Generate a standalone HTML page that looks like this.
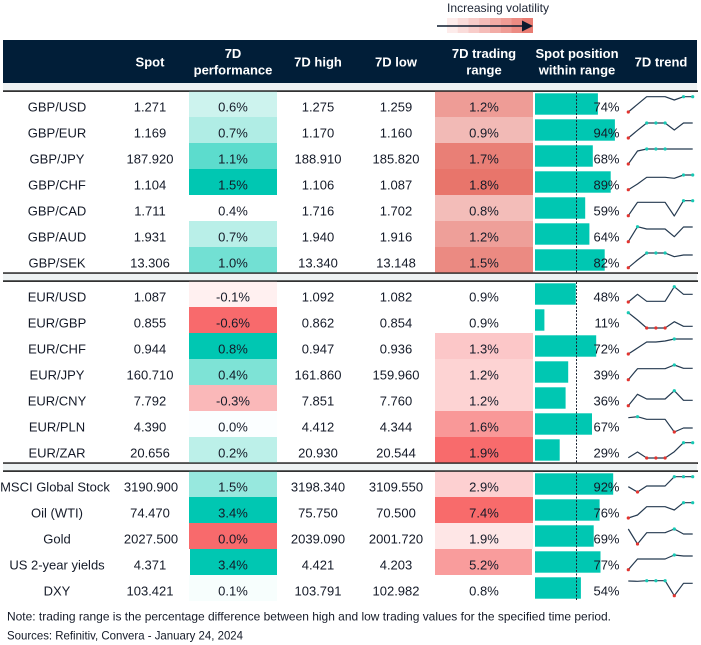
<!DOCTYPE html>
<html><head><meta charset="utf-8">
<style>
html,body{margin:0;padding:0;background:#fff;}
svg{display:block;}
text{font-family:"Liberation Sans",Arial,sans-serif;}
</style></head>
<body>
<svg width="701" height="645" viewBox="0 0 701 645" xmlns="http://www.w3.org/2000/svg">
<!-- legend -->
<text x="447" y="12" font-size="12" fill="#1b2333" textLength="102" lengthAdjust="spacingAndGlyphs">Increasing volatility</text>
<rect x="447" y="18" width="11" height="15" fill="#fdeceb"/>
<rect x="457.75" y="18" width="11" height="15" fill="#fadcda"/>
<rect x="468.5" y="18" width="11" height="15" fill="#f8ccc9"/>
<rect x="479.25" y="18" width="11" height="15" fill="#f5bcb8"/>
<rect x="490" y="18" width="11" height="15" fill="#f2aca6"/>
<rect x="500.75" y="18" width="11" height="15" fill="#ef9c95"/>
<rect x="511.5" y="18" width="11" height="15" fill="#ec8b83"/>
<rect x="522.25" y="18" width="10.75" height="15" fill="#e97c72"/>
<line x1="437" y1="26" x2="525" y2="26" stroke="#0d1b2e" stroke-width="1.5"/>
<polygon points="522,20.5 533,26 522,31.5" fill="#0d1b2e"/>

<!-- header -->
<rect x="3" y="40" width="694" height="43" fill="#011e38"/>
<rect x="3" y="83" width="694" height="8" fill="#eef2f3"/>
<rect x="3" y="90.4" width="695" height="1.4" fill="#000"/>
<g fill="#fff" font-size="13" font-weight="bold" text-anchor="middle">
<text x="150" y="66.5">Spot</text>
<text x="233" y="58">7D</text>
<text x="233" y="74.5">performance</text>
<text x="318" y="66.5">7D high</text>
<text x="396" y="66.5">7D low</text>
<text x="484" y="58">7D trading</text>
<text x="484" y="74.5">range</text>
<text x="577" y="58">Spot position</text>
<text x="577" y="74.5">within range</text>
<text x="661" y="66.5">7D trend</text>
</g>

<!-- section separators -->
<rect x="3" y="272.4" width="695" height="1.4" fill="#000"/>
<rect x="3" y="273.8" width="694" height="6.6" fill="#eef2f3"/>
<rect x="3" y="280.4" width="695" height="1.4" fill="#000"/>
<rect x="3" y="462.4" width="695" height="1.4" fill="#000"/>
<rect x="3" y="463.8" width="694" height="6.6" fill="#eef2f3"/>
<rect x="3" y="470.4" width="695" height="1.4" fill="#000"/>

<!-- perf cells -->
<g>
<rect x="189" y="91.8" width="88" height="25.2" fill="#cdf3ee"/>
<rect x="189" y="117" width="88" height="26" fill="#b0ede5"/>
<rect x="189" y="143" width="88" height="26" fill="#5cdccd"/>
<rect x="189" y="169" width="88" height="26" fill="#00c7b2"/>
<rect x="189" y="221" width="88" height="26" fill="#b9efe8"/>
<rect x="189" y="247" width="88" height="25.4" fill="#72e0d3"/>

<rect x="189" y="281.8" width="88" height="25.2" fill="#fff0f0"/>
<rect x="189" y="307" width="88" height="26" fill="#f86a6c"/>
<rect x="189" y="333" width="88" height="26" fill="#00c7b2"/>
<rect x="189" y="359" width="88" height="26" fill="#7ee3d6"/>
<rect x="189" y="385" width="88" height="26" fill="#fab8b9"/>
<rect x="189" y="411" width="88" height="26" fill="#fbfeff"/>
<rect x="189" y="437" width="88" height="25.4" fill="#bcf0e9"/>

<rect x="189" y="471.8" width="88" height="25.2" fill="#97e8de"/>
<rect x="189" y="497" width="88" height="26" fill="#00c7b2"/>
<rect x="189" y="523" width="88" height="26" fill="#f86a6c"/>
<rect x="190" y="549" width="87" height="26" fill="#00c7b2"/>
<rect x="189" y="575" width="88" height="26" fill="#f7fefd"/>
</g>

<!-- trading range cells -->
<g>
<rect x="435" y="91.8" width="98" height="25.2" fill="#ee9c96"/>
<rect x="435" y="117" width="98" height="26" fill="#f2bab6"/>
<rect x="435" y="143" width="98" height="26" fill="#e97f76"/>
<rect x="435" y="169" width="98" height="26" fill="#e8756b"/>
<rect x="435" y="195" width="98" height="26" fill="#f3bdb9"/>
<rect x="435" y="221" width="98" height="26" fill="#ee9f99"/>
<rect x="435" y="247" width="98" height="25.4" fill="#eb8a82"/>

<rect x="435" y="333" width="98" height="26" fill="#fcc7c8"/>
<rect x="435" y="359" width="98" height="26" fill="#fdd3d3"/>
<rect x="435" y="385" width="98" height="26" fill="#fdd3d3"/>
<rect x="435" y="411" width="98" height="26" fill="#f99898"/>
<rect x="435" y="437" width="98" height="25.4" fill="#f86b6c"/>

<rect x="435" y="471.8" width="98" height="25.2" fill="#fdd0d1"/>
<rect x="435" y="497" width="98" height="26" fill="#f86b6b"/>
<rect x="435" y="523" width="98" height="26" fill="#fee6e6"/>
<rect x="435" y="549" width="97" height="26" fill="#f99c9c"/>
</g>

<!-- bars -->
<g fill="#00c7b2">
<rect x="535" y="93.3" width="62.9" height="21.4"/>
<rect x="535" y="119.3" width="79.9" height="21.4"/>
<rect x="535" y="145.3" width="57.8" height="21.4"/>
<rect x="535" y="171.3" width="75.7" height="21.4"/>
<rect x="535" y="197.3" width="50.2" height="21.4"/>
<rect x="535" y="223.3" width="54.4" height="21.4"/>
<rect x="535" y="249.3" width="69.7" height="21.4"/>

<rect x="535" y="283.3" width="40.8" height="21.4"/>
<rect x="535" y="309.3" width="9.4" height="21.4"/>
<rect x="535" y="335.3" width="61.2" height="21.4"/>
<rect x="535" y="361.3" width="33.2" height="21.4"/>
<rect x="535" y="387.3" width="30.6" height="21.4"/>
<rect x="535" y="413.3" width="57" height="21.4"/>
<rect x="535" y="439.3" width="24.7" height="21.4"/>

<rect x="535" y="473.3" width="78.2" height="21.4"/>
<rect x="535" y="499.3" width="64.6" height="21.4"/>
<rect x="535" y="525.3" width="58.7" height="21.4"/>
<rect x="535" y="551.3" width="65.5" height="21.4"/>
<rect x="535" y="577.3" width="45.9" height="21.4"/>
</g>
<g stroke="#1b2333" stroke-width="1" stroke-dasharray="2,1.5">
<line x1="576.5" y1="92" x2="576.5" y2="272.4"/>
<line x1="576.5" y1="282" x2="576.5" y2="462.4"/>
<line x1="576.5" y1="472" x2="576.5" y2="601"/>
</g>

<!-- table text -->
<g font-size="13" fill="#141a28">
<g text-anchor="middle">
<!-- GBP -->
<text x="57" y="111.5">GBP/USD</text><text x="150" y="111.5">1.271</text><text x="233" y="111.5">0.6%</text><text x="318" y="111.5">1.275</text><text x="396" y="111.5">1.259</text><text x="484" y="111.5">1.2%</text>
<text x="57" y="137.5">GBP/EUR</text><text x="150" y="137.5">1.169</text><text x="233" y="137.5">0.7%</text><text x="318" y="137.5">1.170</text><text x="396" y="137.5">1.160</text><text x="484" y="137.5">0.9%</text>
<text x="57" y="163.5">GBP/JPY</text><text x="150" y="163.5">187.920</text><text x="233" y="163.5">1.1%</text><text x="318" y="163.5">188.910</text><text x="396" y="163.5">185.820</text><text x="484" y="163.5">1.7%</text>
<text x="57" y="189.5">GBP/CHF</text><text x="150" y="189.5">1.104</text><text x="233" y="189.5">1.5%</text><text x="318" y="189.5">1.106</text><text x="396" y="189.5">1.087</text><text x="484" y="189.5">1.8%</text>
<text x="57" y="215.5">GBP/CAD</text><text x="150" y="215.5">1.711</text><text x="233" y="215.5">0.4%</text><text x="318" y="215.5">1.716</text><text x="396" y="215.5">1.702</text><text x="484" y="215.5">0.8%</text>
<text x="57" y="241.5">GBP/AUD</text><text x="150" y="241.5">1.931</text><text x="233" y="241.5">0.7%</text><text x="318" y="241.5">1.940</text><text x="396" y="241.5">1.916</text><text x="484" y="241.5">1.2%</text>
<text x="57" y="267.5">GBP/SEK</text><text x="150" y="267.5">13.306</text><text x="233" y="267.5">1.0%</text><text x="318" y="267.5">13.340</text><text x="396" y="267.5">13.148</text><text x="484" y="267.5">1.5%</text>
<!-- EUR -->
<text x="57" y="301.5">EUR/USD</text><text x="150" y="301.5">1.087</text><text x="233" y="301.5">-0.1%</text><text x="318" y="301.5">1.092</text><text x="396" y="301.5">1.082</text><text x="484" y="301.5">0.9%</text>
<text x="57" y="327.5">EUR/GBP</text><text x="150" y="327.5">0.855</text><text x="233" y="327.5">-0.6%</text><text x="318" y="327.5">0.862</text><text x="396" y="327.5">0.854</text><text x="484" y="327.5">0.9%</text>
<text x="57" y="353.5">EUR/CHF</text><text x="150" y="353.5">0.944</text><text x="233" y="353.5">0.8%</text><text x="318" y="353.5">0.947</text><text x="396" y="353.5">0.936</text><text x="484" y="353.5">1.3%</text>
<text x="57" y="379.5">EUR/JPY</text><text x="150" y="379.5">160.710</text><text x="233" y="379.5">0.4%</text><text x="318" y="379.5">161.860</text><text x="396" y="379.5">159.960</text><text x="484" y="379.5">1.2%</text>
<text x="57" y="405.5">EUR/CNY</text><text x="150" y="405.5">7.792</text><text x="233" y="405.5">-0.3%</text><text x="318" y="405.5">7.851</text><text x="396" y="405.5">7.760</text><text x="484" y="405.5">1.2%</text>
<text x="57" y="431.5">EUR/PLN</text><text x="150" y="431.5">4.390</text><text x="233" y="431.5">0.0%</text><text x="318" y="431.5">4.412</text><text x="396" y="431.5">4.344</text><text x="484" y="431.5">1.6%</text>
<text x="57" y="457.5">EUR/ZAR</text><text x="150" y="457.5">20.656</text><text x="233" y="457.5">0.2%</text><text x="318" y="457.5">20.930</text><text x="396" y="457.5">20.544</text><text x="484" y="457.5">1.9%</text>
<!-- other -->
<text x="55" y="491.5">MSCI Global Stock</text><text x="151" y="491.5">3190.900</text><text x="233" y="491.5">1.5%</text><text x="318" y="491.5">3198.340</text><text x="396" y="491.5">3109.550</text><text x="484" y="491.5">2.9%</text>
<text x="57" y="517.5">Oil (WTI)</text><text x="150" y="517.5">74.470</text><text x="233" y="517.5">3.4%</text><text x="318" y="517.5">75.750</text><text x="396" y="517.5">70.500</text><text x="484" y="517.5">7.4%</text>
<text x="57" y="543.5">Gold</text><text x="151" y="543.5">2027.500</text><text x="233" y="543.5">0.0%</text><text x="318" y="543.5">2039.090</text><text x="396" y="543.5">2001.720</text><text x="484" y="543.5">1.9%</text>
<text x="57" y="569.5">US 2-year yields</text><text x="150" y="569.5">4.371</text><text x="233" y="569.5">3.4%</text><text x="318" y="569.5">4.421</text><text x="396" y="569.5">4.203</text><text x="484" y="569.5">5.2%</text>
<text x="57" y="595.5">DXY</text><text x="150" y="595.5">103.421</text><text x="233" y="595.5">0.1%</text><text x="318" y="595.5">103.791</text><text x="396" y="595.5">102.982</text><text x="484" y="595.5">0.8%</text>
</g>
<g text-anchor="end">
<text x="619.5" y="111.5">74%</text>
<text x="619.5" y="137.5">94%</text>
<text x="619.5" y="163.5">68%</text>
<text x="619.5" y="189.5">89%</text>
<text x="619.5" y="215.5">59%</text>
<text x="619.5" y="241.5">64%</text>
<text x="619.5" y="267.5">82%</text>
<text x="619.5" y="301.5">48%</text>
<text x="619.5" y="327.5">11%</text>
<text x="619.5" y="353.5">72%</text>
<text x="619.5" y="379.5">39%</text>
<text x="619.5" y="405.5">36%</text>
<text x="619.5" y="431.5">67%</text>
<text x="619.5" y="457.5">29%</text>
<text x="619.5" y="491.5">92%</text>
<text x="619.5" y="517.5">76%</text>
<text x="619.5" y="543.5">69%</text>
<text x="619.5" y="569.5">77%</text>
<text x="619.5" y="595.5">54%</text>
</g>
</g>

<!-- sparklines -->
<g fill="none" stroke="#253a50" stroke-width="1.2" stroke-linejoin="round">
<polyline points="628.3,112 637.5,104.3 646.7,96.7 655.9,96.7 665.1,96.7 674.3,100 683.5,96.7 692.7,96.7"/>
<polyline points="628.3,138 637.5,130.3 646.7,123 655.9,123 665.1,123 674.3,130 683.5,123 692.7,123"/>
<polyline points="628.3,164 637.5,151 646.7,149 655.9,149 665.1,149 674.3,149 683.5,149 692.7,149"/>
<polyline points="628.3,189.7 637.5,184 646.7,177.3 655.9,177.3 665.1,177.3 674.3,178.3 683.5,175 692.7,175"/>
<polyline points="628.3,215.7 637.5,202.3 646.7,202.3 655.9,202.3 665.1,202.3 674.3,216 683.5,200.7 692.7,200.7"/>
<polyline points="628.3,241.7 637.5,226.7 646.7,229 655.9,229 665.1,229 674.3,236.7 683.5,227 692.7,227"/>
<polyline points="628.3,267.7 637.5,260 646.7,253 655.9,253 665.1,253 674.3,256.7 683.5,255 692.7,255"/>

<polyline points="628.3,302 637.5,294.3 646.7,301.3 655.9,301.3 665.1,301.3 674.3,286.7 683.5,294.3 692.7,294.3"/>
<polyline points="628.3,312.7 637.5,320 646.7,328 655.9,328 665.1,328 674.3,321.7 683.5,326.3 692.7,326.3"/>
<polyline points="628.3,354 637.5,348 646.7,342 655.9,342 665.1,341 674.3,339 683.5,339 692.7,339"/>
<polyline points="628.3,379.7 637.5,368.7 646.7,368.7 655.9,368.7 665.1,368.7 674.3,365 683.5,368.3 692.7,368.3"/>
<polyline points="628.3,405.7 637.5,394.3 646.7,399 655.9,399 665.1,399 674.3,390.7 683.5,400.3 692.7,400.3"/>
<polyline points="628.3,417.7 637.5,416.7 646.7,419.3 655.9,419.3 665.1,419.3 674.3,432 683.5,428 692.7,428"/>
<polyline points="628.3,457.7 637.5,452 646.7,458 655.9,458 665.1,458 674.3,451.7 683.5,442.7 692.7,442.7"/>

<polyline points="628.3,486.7 637.5,492 646.7,486 655.9,486 665.1,486 674.3,476.7 683.5,476.7 692.7,476.7"/>
<polyline points="628.3,518 637.5,515 646.7,506.7 655.9,506.7 665.1,506.7 674.3,510 683.5,502.7 692.7,502.7"/>
<polyline points="628.3,529 637.5,544 646.7,532.7 655.9,532.7 665.1,532.7 674.3,529 683.5,534 692.7,534"/>
<polyline points="628.3,569.7 637.5,559 646.7,559 655.9,559 665.1,559 674.3,555 683.5,556 692.7,556"/>
<polyline points="628.3,581 637.5,581.3 646.7,580.7 655.9,580.7 665.1,580.7 674.3,595.7 683.5,583.3 692.7,583.3"/>
</g>
<!-- red markers -->
<g fill="#e3342f">
<circle cx="628.3" cy="112" r="1.6"/>
<circle cx="628.3" cy="138" r="1.6"/>
<circle cx="628.3" cy="164" r="1.6"/>
<circle cx="628.3" cy="189.7" r="1.6"/>
<circle cx="628.3" cy="215.7" r="1.6"/>
<circle cx="628.3" cy="241.7" r="1.6"/>
<circle cx="628.3" cy="267.7" r="1.6"/>
<circle cx="628.3" cy="302" r="1.6"/>
<circle cx="646.7" cy="328" r="1.6"/><circle cx="655.9" cy="328" r="1.6"/><circle cx="665.1" cy="328" r="1.6"/>
<circle cx="628.3" cy="354" r="1.6"/>
<circle cx="628.3" cy="379.7" r="1.6"/>
<circle cx="628.3" cy="405.7" r="1.6"/>
<circle cx="674.3" cy="432" r="1.6"/>
<circle cx="646.7" cy="458" r="1.6"/><circle cx="655.9" cy="458" r="1.6"/><circle cx="665.1" cy="458" r="1.6"/>
<circle cx="637.5" cy="492" r="1.6"/>
<circle cx="628.3" cy="518" r="1.6"/>
<circle cx="637.5" cy="544" r="1.6"/>
<circle cx="628.3" cy="569.7" r="1.6"/>
<circle cx="674.3" cy="595.7" r="1.6"/>
</g>
<!-- teal markers -->
<g fill="#17c9b4">
<circle cx="683.5" cy="96.7" r="1.6"/><circle cx="692.7" cy="96.7" r="1.6"/>
<circle cx="646.7" cy="123" r="1.6"/><circle cx="655.9" cy="123" r="1.6"/><circle cx="665.1" cy="123" r="1.6"/>
<circle cx="646.7" cy="149" r="1.6"/><circle cx="655.9" cy="149" r="1.6"/><circle cx="665.1" cy="149" r="1.6"/>
<circle cx="683.5" cy="175" r="1.6"/><circle cx="692.7" cy="175" r="1.6"/>
<circle cx="683.5" cy="200.7" r="1.6"/><circle cx="692.7" cy="200.7" r="1.6"/>
<circle cx="637.5" cy="226.7" r="1.6"/>
<circle cx="646.7" cy="253" r="1.6"/><circle cx="655.9" cy="253" r="1.6"/><circle cx="665.1" cy="253" r="1.6"/>
<circle cx="674.3" cy="286.7" r="1.6"/>
<circle cx="628.3" cy="312.7" r="1.6"/>
<circle cx="674.3" cy="339" r="1.6"/>
<circle cx="674.3" cy="365" r="1.6"/>
<circle cx="674.3" cy="390.7" r="1.6"/>
<circle cx="637.5" cy="416.7" r="1.6"/>
<circle cx="683.5" cy="442.7" r="1.6"/><circle cx="692.7" cy="442.7" r="1.6"/>
<circle cx="674.3" cy="476.7" r="1.6"/><circle cx="683.5" cy="476.7" r="1.6"/><circle cx="692.7" cy="476.7" r="1.6"/>
<circle cx="683.5" cy="502.7" r="1.6"/><circle cx="692.7" cy="502.7" r="1.6"/>
<circle cx="674.3" cy="529" r="1.6"/>
<circle cx="674.3" cy="555" r="1.6"/>
<circle cx="646.7" cy="580.7" r="1.6"/><circle cx="655.9" cy="580.7" r="1.6"/><circle cx="665.1" cy="580.7" r="1.6"/>
</g>

<!-- footer -->
<text x="7" y="620.5" font-size="12" fill="#141a28" textLength="604" lengthAdjust="spacingAndGlyphs">Note: trading range is the percentage difference between high and low trading values for the specified time period.</text>
<text x="7" y="639.5" font-size="12" fill="#141a28" textLength="236" lengthAdjust="spacingAndGlyphs">Sources: Refinitiv, Convera - January 24, 2024</text>
</svg>
</body></html>
